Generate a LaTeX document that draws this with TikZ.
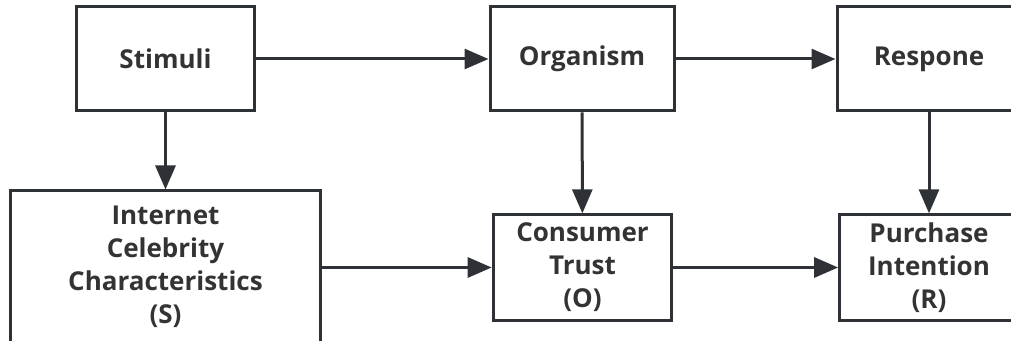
\documentclass[tikz,border=0pt]{standalone}
\usepackage{fontspec}
\setmainfont{Open Sans}
\usetikzlibrary{arrows.meta}
\definecolor{ln}{HTML}{2E3236}
\definecolor{tx}{HTML}{333333}
\begin{document}
\begin{tikzpicture}[x=0.75pt,y=-0.75pt,
  box/.style={draw=ln,line width=2.25pt,rectangle,inner sep=0pt,align=center,
    text=tx,font=\fontsize{19.5}{24.75}\selectfont\bfseries},
  conn/.style={draw=ln,line width=2.25pt,-{Triangle[length=18pt,width=15pt]}}]
\useasboundingbox (0,0) rectangle (1011,341);
\clip (0,0) rectangle (1011,341);
\node[box,minimum width=133.5pt,minimum height=78pt] (stim) at (165.5,59) {Stimuli};
\node[box,minimum width=138pt,minimum height=78pt] (org) at (582,59) {Organism};
\node[box,minimum width=138pt,minimum height=78pt] (resp) at (929,59) {Respone};
\node[box,minimum width=233pt,minimum height=114pt] (ics) at (165.5,267) {Internet\\Celebrity\\Characteristics\\(S)};
\node[box,minimum width=134pt,minimum height=79pt] (ct) at (582.5,267.5) {Consumer\\Trust\\(O)};
\node[box,minimum width=134pt,minimum height=79pt] (pi) at (929,267.5) {Purchase\\Intention\\(R)};
\draw[conn] (stim) -- (org);
\draw[conn] (org) -- (resp);
\draw[conn] (stim) -- (stim|-ics.north);
\draw[conn] (org) -- (ct);
\draw[conn] (resp) -- (pi);
\draw[conn] (ics.east|-ct) -- (ct);
\draw[conn] (ct) -- (pi);
\end{tikzpicture}
\end{document}
